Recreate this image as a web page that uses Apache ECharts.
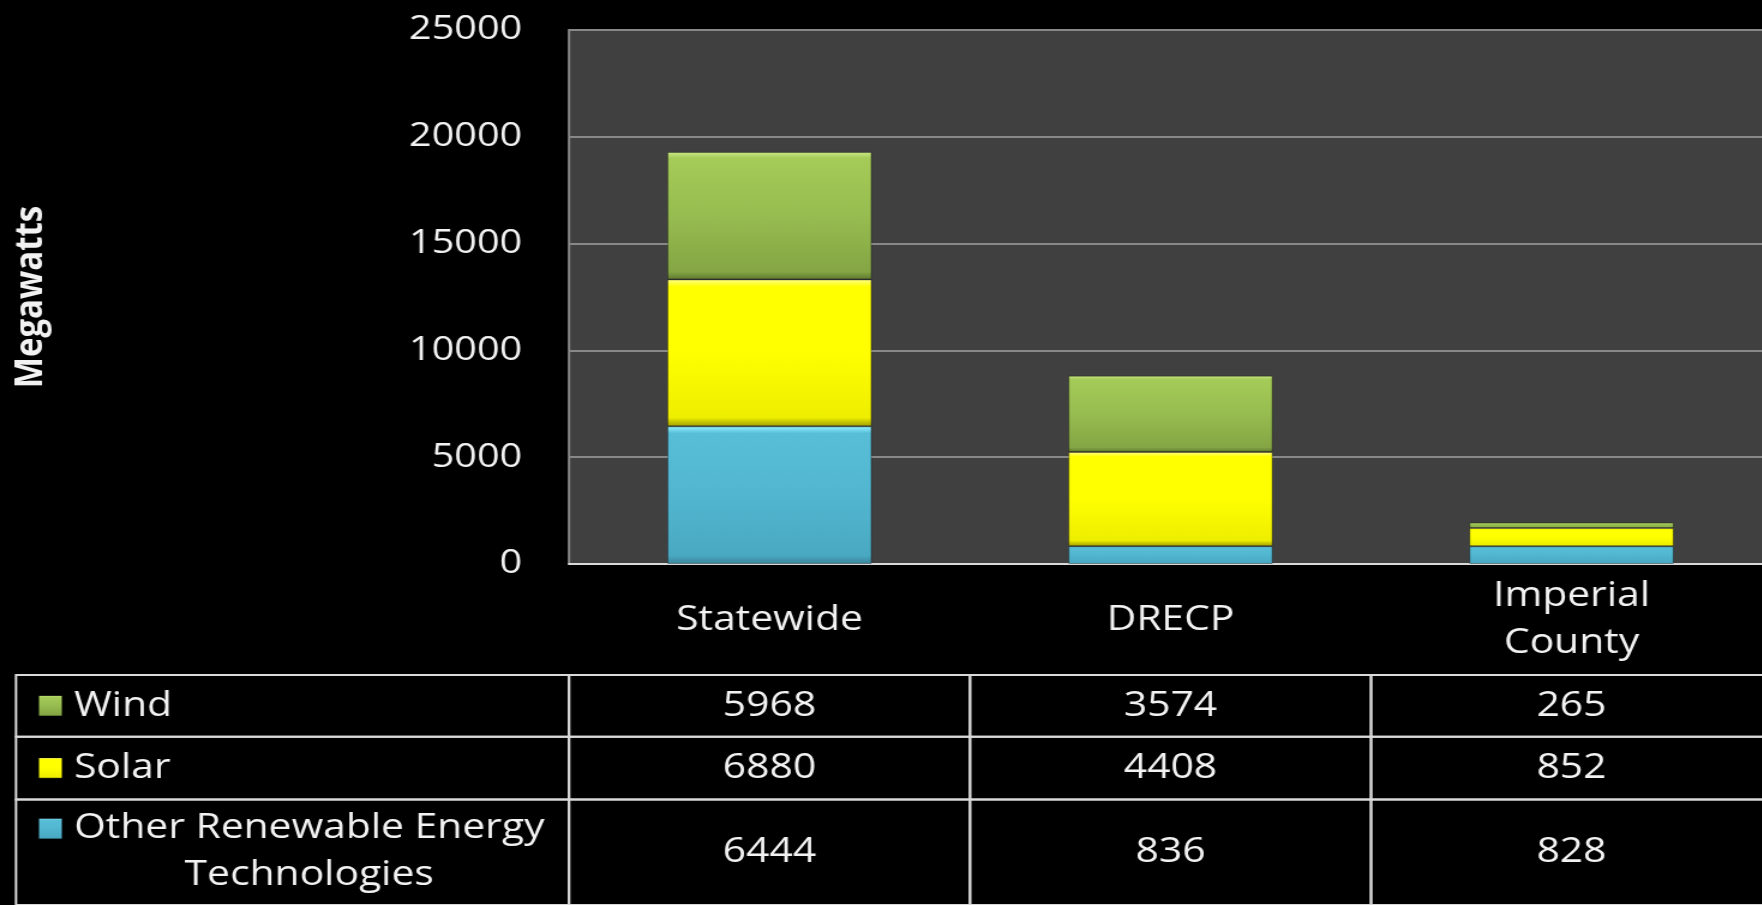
<!DOCTYPE html>
<html>
<head>
<meta charset="utf-8">
<title>Renewable capacity</title>
<script src="https://cdn.jsdelivr.net/npm/echarts@6/dist/echarts.min.js"></script>
<style>
  html, body { margin: 0; padding: 0; background: #000; overflow: hidden; width: 1762px; height: 905px; }
  #chart { height: 905px; transform-origin: 0 0; }
</style>
</head>
<body>
<div id="chart"></div>
<script>
// data
const categories = ["Statewide", "DRECP", "Imperial\nCounty"];
const wind = [5968, 3574, 265];
const solar = [6880, 4408, 852];
const other = [6444, 836, 828];
const rowNames = ["Wind", "Solar", "Other Renewable Energy\nTechnologies"];
const yMin = 0;
const yMax = 25000;
const yStep = 5000;

// the original picture is a horizontally stretched slide
const SX = 1.2;
const FONT = '"Open Sans", "DejaVu Sans", sans-serif';
const LINE = "#d9d9d9";
const rowHeights = [62, 63, 106];
const rowEdges = rowHeights.reduce((acc, h) => { acc.push(acc[acc.length - 1] + h); return acc; }, [0]);

const palette = {
  wind: { hi: "#cbea86", top: "#a5cb58", mid: "#97bc50", low: "#85a644", edge: "#5f7730" },
  solar: { hi: "#ffff8a", top: "#ffff00", mid: "#ffff00", low: "#eeee00", edge: "#a09e00" },
  other: { hi: "#94f4ff", top: "#58bed8", mid: "#52b6d0", low: "#4aa9c2", edge: "#3a8499" },
};
const rowColors = [palette.wind, palette.solar, palette.other];

const bevel = (c) =>
  new echarts.graphic.LinearGradient(0, 0, 0, 1, [
    { offset: 0, color: c.hi },
    { offset: 0.05, color: c.top },
    { offset: 0.5, color: c.mid },
    { offset: 0.94, color: c.low },
    { offset: 1, color: c.edge },
  ]);

// the plot runs past the right edge of the picture, so the canvas is wider than the window
const el = document.getElementById("chart");
el.style.width = 1840 / SX + "px";
el.style.transform = "scaleX(" + SX + ")";

const measure = document.createElement("canvas").getContext("2d");
measure.font = '34px "Open Sans"';

const gridLeft = 569 / SX;
const gridWidth = 1203 / SX;

const barSeries = (name, values, c) => ({
  name,
  type: "bar",
  stack: "total",
  data: values,
  barWidth: "51%",
  itemStyle: {
    color: bevel(c),
    borderColor: "rgba(0,0,0,0.3)",
    borderWidth: 1,
  },
});

const tableData = [];
[wind, solar, other].forEach((row, r) => row.forEach((v, c) => tableData.push([c, r, v])));

const chart = echarts.init(el);
chart.setOption({
  backgroundColor: "#000",
  animation: false,
  grid: [
    {
      left: gridLeft, top: 30, width: gridWidth, height: 534,
      show: true, backgroundColor: "#404040", borderColor: "#888", borderWidth: 2,
    },
    { left: gridLeft, top: 675, width: gridWidth, height: rowEdges[3] },
  ],
  xAxis: [
    {
      type: "category",
      gridIndex: 0,
      data: categories,
      axisLine: { lineStyle: { color: LINE, width: 2 } },
      axisTick: { alignWithLabel: false, length: 111, lineStyle: { color: LINE, width: 2 } },
      axisLabel: {
        margin: 56,
        verticalAlign: "middle",
        color: "#f2f2f2",
        fontFamily: FONT,
        fontSize: 34,
        lineHeight: 47,
      },
    },
    { type: "category", gridIndex: 1, data: categories, show: false },
  ],
  yAxis: [
    {
      type: "value",
      gridIndex: 0,
      min: yMin,
      max: yMax,
      interval: yStep,
      name: "Megawatts",
      nameLocation: "middle",
      nameRotate: 90,
      nameGap: 432,
      nameTextStyle: { color: "#f2f2f2", fontFamily: FONT, fontSize: 33, fontWeight: "bold" },
      axisLine: { show: false },
      axisTick: { show: false },
      axisLabel: {
        margin: 39, color: "#f2f2f2", fontFamily: FONT, fontSize: 33,
        formatter: (v) => String(v),
      },
      splitLine: { lineStyle: { color: "#888", width: 2 } },
    },
    { type: "value", gridIndex: 1, min: 0, max: rowEdges[3], inverse: true, show: false },
  ],
  series: [
    barSeries("Other Renewable Energy Technologies", other, palette.other),
    barSeries("Solar", solar, palette.solar),
    barSeries("Wind", wind, palette.wind),
    {
      // value cells of the data table
      type: "custom",
      xAxisIndex: 1,
      yAxisIndex: 1,
      data: tableData,
      encode: { x: 0, y: 1 },
      silent: true,
      renderItem: (params, api) => {
        const c = api.value(0);
        const r = api.value(1);
        const colW = api.size([1, 0])[0];
        const cx = api.coord([c, 0])[0];
        const y0 = api.coord([c, rowEdges[r]])[1];
        const y1 = api.coord([c, rowEdges[r + 1]])[1];
        return {
          type: "group",
          children: [
            { type: "rect", shape: { x: cx - colW / 2, y: y0, width: colW, height: y1 - y0 },
              style: { fill: "none", stroke: LINE, lineWidth: 2 } },
            { type: "text", style: { text: String(api.value(2)), x: cx, y: (y0 + y1) / 2,
              align: "center", verticalAlign: "middle", fill: "#f2f2f2", fontSize: 34, fontFamily: FONT } },
          ],
        };
      },
    },
    {
      // legend column of the data table
      type: "custom",
      xAxisIndex: 1,
      yAxisIndex: 1,
      data: rowNames.map((n, r) => [0, r]),
      encode: { x: 0, y: 1 },
      silent: true,
      renderItem: (params, api) => {
        const r = params.dataIndex;
        const colW = api.size([1, 0])[0];
        const right = api.coord([0, 0])[0] - colW / 2;
        const left = 16 / SX;
        const y0 = api.coord([0, rowEdges[r]])[1];
        const y1 = api.coord([0, rowEdges[r + 1]])[1];
        const lines = rowNames[r].split("\n");
        const lh = 47;
        const firstY = (y0 + y1) / 2 - ((lines.length - 1) * lh) / 2;
        const textLeft = 74 / SX;
        const w = Math.max(...lines.map((l) => measure.measureText(l).width));
        return {
          type: "group",
          children: [
            { type: "rect", shape: { x: left, y: y0, width: right - left, height: y1 - y0 },
              style: { fill: "none", stroke: LINE, lineWidth: 2 } },
            { type: "rect", shape: { x: 39 / SX, y: firstY - 10, width: 19, height: 20 },
              style: { fill: bevel(rowColors[r]) } },
            { type: "text", style: { text: rowNames[r], x: textLeft + w / 2, y: (y0 + y1) / 2,
              align: "center", verticalAlign: "middle", lineHeight: lh,
              fill: "#f2f2f2", fontSize: 34, fontFamily: FONT } },
          ],
        };
      },
    },
  ],
});
</script>
</body>
</html>
